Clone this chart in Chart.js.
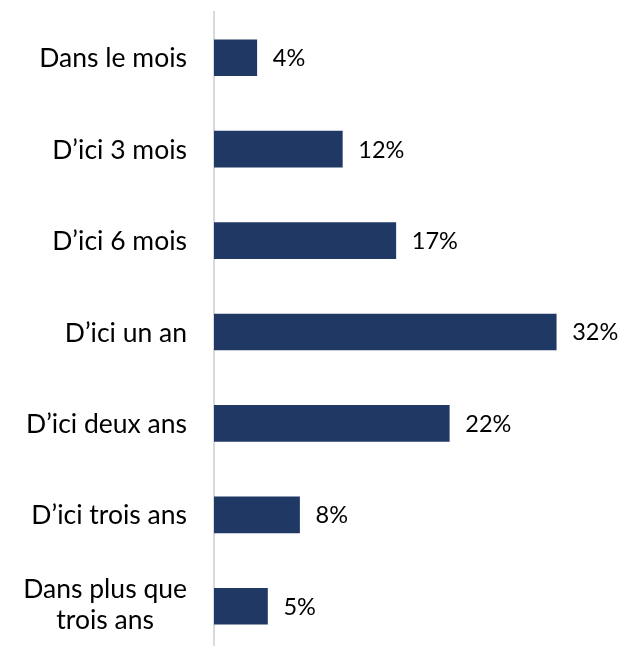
<!DOCTYPE html>
<html>
<head>
<meta charset="utf-8">
<script src="https://cdn.jsdelivr.net/npm/chart.js@4.4.1/dist/chart.umd.min.js"></script>
<style>
  html, body { margin: 0; padding: 0; background: #fff; overflow: hidden; }
  #wrap { width: 621px; height: 652px; position: relative; }
</style>
</head>
<body>
<div id="wrap"><canvas id="chart"></canvas></div>
<script>
const categories = [
  ['Dans le mois'],
  ['D\u2019ici 3 mois'],
  ['D\u2019ici 6 mois'],
  ['D\u2019ici un an'],
  ['D\u2019ici deux ans'],
  ['D\u2019ici trois ans'],
  ['Dans plus que', 'trois ans'],
];
const values = [4, 12, 17, 32, 22, 8, 5];

const FONT = 'Lato';
const LABEL_SIZE = 26.5;
const VALUE_SIZE = 23.5;
const LABEL_RIGHT = 187;

// draws category labels (right aligned block, lines centred) and value labels
const labelsPlugin = {
  id: 'labels',
  afterDatasetsDraw(chart) {
    const { ctx, scales: { x, y } } = chart;
    ctx.save();
    ctx.fillStyle = '#000';
    ctx.textBaseline = 'alphabetic';

    ctx.font = `${LABEL_SIZE}px ${FONT}`;
    const lh = 31;
    categories.forEach((lines, i) => {
      const yc = y.getPixelForValue(i);
      const widths = lines.map(l => ctx.measureText(l).width);
      const blockW = Math.max(...widths);
      const cx = LABEL_RIGHT - blockW / 2;
      lines.forEach((l, k) => {
        const yy = yc - (lines.length - 1) * lh / 2 + k * lh - (lines.length > 1 ? 2 : 0);
        ctx.textAlign = 'center';
        ctx.fillText(l, cx, yy + LABEL_SIZE * 0.36);
      });
    });

    ctx.font = `${VALUE_SIZE}px ${FONT}`;
    ctx.textAlign = 'left';
    values.forEach((v, i) => {
      const yc = y.getPixelForValue(i);
      ctx.fillText(v + '%', x.getPixelForValue(v) + 16, yc + VALUE_SIZE * 0.36);
    });
    ctx.restore();
  }
};

new Chart(document.getElementById('chart'), {
  type: 'bar',
  data: {
    labels: categories,
    datasets: [{
      data: values,
      backgroundColor: '#203864',
      barThickness: 36,
    }],
  },
  options: {
    indexAxis: 'y',
    responsive: true,
    maintainAspectRatio: false,
    animation: false,
    layout: { padding: { left: 206, right: 22, top: 12, bottom: 0 } },
    plugins: {
      legend: { display: false },
      tooltip: { enabled: false },
    },
    scales: {
      x: { display: false, min: 0, max: 36 },
      y: {
        grid: { display: false },
        ticks: { display: false },
        border: { display: true, color: '#d9d9d9', width: 2 },
      },
    },
  },
  plugins: [labelsPlugin],
});
</script>
</body>
</html>
